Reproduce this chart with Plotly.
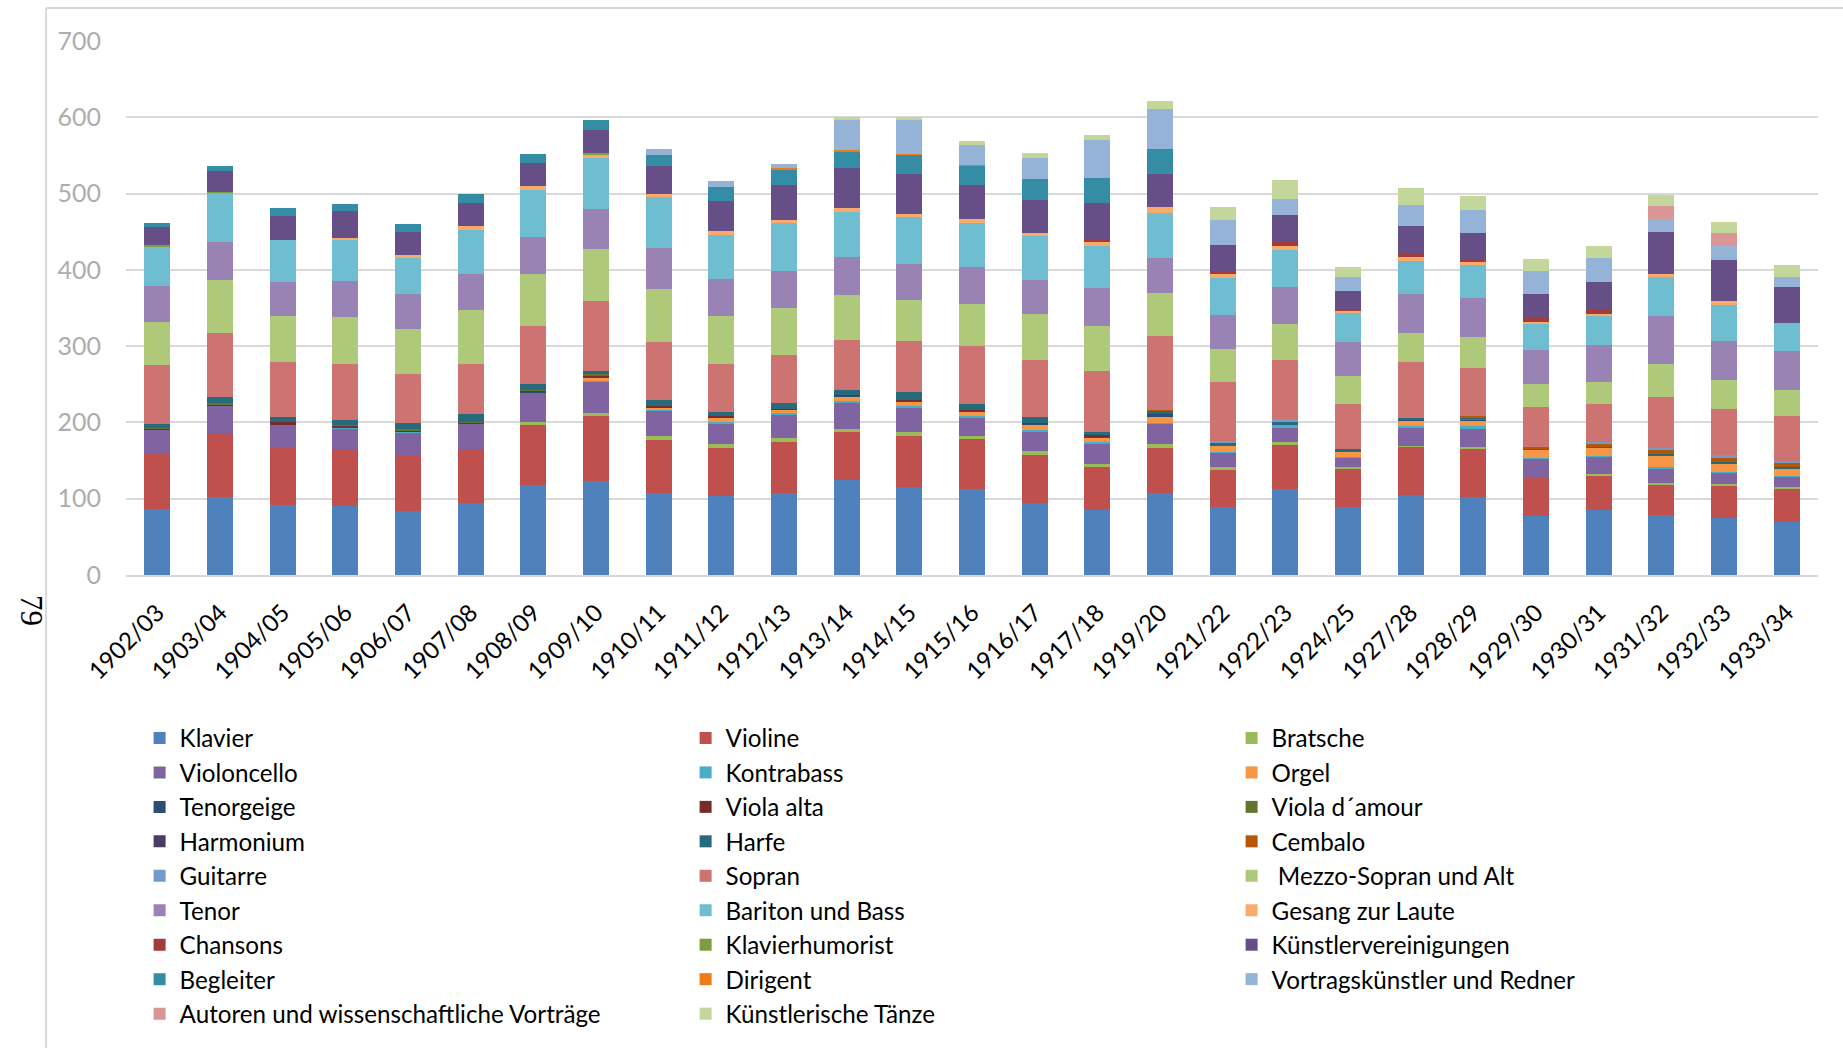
import plotly.graph_objects as go

seasons = ["1902/03", "1903/04", "1904/05", "1905/06", "1906/07", "1907/08", "1908/09",
           "1909/10", "1910/11", "1911/12", "1912/13", "1913/14", "1914/15", "1915/16",
           "1916/17", "1917/18", "1919/20", "1921/22", "1922/23", "1924/25", "1927/28",
           "1928/29", "1929/30", "1930/31", "1931/32", "1932/33", "1933/34"]

klavier = [87, 102, 92, 90, 84, 94, 118, 123, 107, 104, 107, 124, 115, 113, 95, 85, 108, 89, 113, 89, 105, 102, 77, 85, 79, 75, 69]
violine = [72, 84, 76, 75, 72, 71, 78, 85, 70, 63, 68, 63, 67, 65, 62, 56, 58, 49, 58, 50, 63, 64, 52, 46, 40, 42, 44]
bratsche = [0, 0, 0, 0, 0, 0, 4, 4, 5, 5, 4, 4, 5, 4, 5, 5, 6, 3, 3, 2, 1, 2, 0, 1, 2, 2, 3]
violoncello = [32, 35, 29, 27, 31, 33, 39, 41, 33, 27, 32, 35, 32, 24, 26, 26, 26, 19, 20, 13, 24, 24, 24, 23, 19, 15, 13]
kontrabass = [0, 0, 0, 1, 1, 0, 0, 1, 1, 1, 1, 2, 2, 2, 2, 2, 1, 1, 2, 1, 2, 3, 1, 1, 1, 1, 1]
orgel = [0, 0, 0, 0, 0, 0, 0, 5, 4, 6, 5, 6, 7, 6, 7, 5, 8, 8, 0, 6, 7, 8, 10, 11, 15, 11, 10]
tenorgeige = [0, 0, 0, 0, 0, 0, 1, 1, 0, 1, 0, 1, 1, 1, 1, 3, 4, 0, 0, 0, 1, 1, 0, 0, 0, 0, 0]
viola_alta = [1, 3, 3, 3, 2, 2, 2, 2, 2, 1, 1, 1, 1, 1, 1, 1, 0, 0, 0, 0, 0, 0, 0, 0, 0, 0, 0]
viola_damour = [1, 2, 0, 1, 2, 1, 1, 1, 0, 0, 0, 0, 0, 0, 0, 0, 0, 0, 0, 0, 0, 1, 0, 0, 0, 0, 0]
harmonium = [0, 0, 0, 0, 0, 0, 0, 0, 0, 0, 0, 0, 0, 0, 0, 0, 0, 0, 0, 0, 0, 0, 0, 0, 0, 0, 0]
harfe = [5, 7, 7, 6, 7, 10, 7, 5, 7, 6, 8, 7, 10, 8, 8, 4, 4, 5, 5, 4, 3, 2, 2, 1, 2, 2, 1]
cembalo = [0, 0, 0, 0, 0, 0, 0, 0, 0, 0, 0, 0, 0, 0, 0, 0, 1, 0, 0, 0, 0, 2, 2, 5, 6, 6, 6]
guitarre = [0, 0, 0, 0, 0, 0, 0, 0, 0, 0, 0, 0, 0, 0, 0, 0, 0, 2, 3, 0, 0, 0, 0, 2, 3, 3, 2]
sopran = [77, 84, 72, 73, 65, 66, 77, 91, 77, 63, 62, 65, 67, 76, 75, 81, 97, 77, 78, 59, 73, 62, 52, 49, 66, 60, 60]
mezzo = [57, 70, 61, 62, 59, 70, 68, 69, 69, 62, 62, 59, 53, 55, 60, 58, 57, 43, 47, 37, 38, 41, 31, 29, 44, 39, 34]
tenor = [47, 50, 44, 48, 45, 47, 48, 52, 54, 49, 49, 50, 48, 49, 45, 50, 46, 45, 49, 44, 51, 51, 44, 48, 62, 51, 50]
bariton = [52, 64, 55, 53, 47, 58, 62, 66, 66, 58, 62, 59, 61, 58, 57, 55, 58, 48, 48, 38, 43, 43, 34, 38, 51, 47, 37]
gesang_laute = [0, 0, 0, 3, 4, 5, 5, 5, 5, 5, 4, 5, 4, 5, 4, 6, 8, 6, 5, 4, 6, 4, 3, 3, 5, 5, 0]
chansons = [0, 0, 0, 0, 0, 0, 0, 0, 0, 0, 0, 0, 0, 0, 0, 3, 0, 4, 5, 1, 5, 4, 5, 5, 0, 0, 0]
klavierhumorist = [2, 1, 0, 0, 0, 0, 0, 2, 0, 0, 0, 0, 0, 0, 0, 0, 0, 0, 0, 0, 0, 0, 0, 0, 0, 0, 0]
kuenstlervereinigungen = [23, 28, 32, 35, 31, 31, 30, 30, 36, 39, 46, 53, 53, 44, 43, 47, 44, 33, 36, 24, 36, 34, 31, 37, 55, 54, 48]
begleiter = [6, 6, 10, 9, 10, 12, 12, 13, 14, 19, 20, 21, 25, 26, 28, 33, 33, 0, 0, 0, 0, 0, 0, 0, 0, 0, 0]
dirigent = [0, 0, 0, 0, 0, 0, 0, 0, 0, 0, 2, 2, 1, 1, 0, 0, 0, 0, 0, 0, 0, 0, 0, 0, 0, 0, 0]
vortrag = [0, 0, 0, 0, 0, 0, 0, 0, 9, 7, 6, 40, 44, 26, 28, 50, 52, 33, 21, 18, 27, 31, 31, 31, 17, 18, 13]
autoren = [0, 0, 0, 0, 0, 0, 0, 0, 0, 0, 0, 0, 0, 0, 0, 0, 0, 0, 0, 0, 0, 0, 0, 0, 17, 17, 0]
taenze = [0, 0, 0, 0, 0, 0, 0, 0, 0, 0, 0, 4, 5, 5, 6, 7, 11, 17, 25, 14, 22, 18, 15, 16, 14, 15, 15]

series = [
    ("Klavier", klavier, "#4F81BD"),
    ("Violine", violine, "#C0504D"),
    ("Bratsche", bratsche, "#9BBB59"),
    ("Violoncello", violoncello, "#8064A2"),
    ("Kontrabass", kontrabass, "#4BACC6"),
    ("Orgel", orgel, "#F79646"),
    ("Tenorgeige", tenorgeige, "#2C4D75"),
    ("Viola alta", viola_alta, "#772C2A"),
    ("Viola d\u00b4amour", viola_damour, "#5F7530"),
    ("Harmonium", harmonium, "#4D3B62"),
    ("Harfe", harfe, "#276A7C"),
    ("Cembalo", cembalo, "#B65708"),
    ("Guitarre", guitarre, "#729ACA"),
    ("Sopran", sopran, "#CD7371"),
    (" Mezzo-Sopran und Alt", mezzo, "#AFC97A"),
    ("Tenor", tenor, "#9983B5"),
    ("Bariton und Bass", bariton, "#6FBDD1"),
    ("Gesang zur Laute", gesang_laute, "#F9AB6B"),
    ("Chansons", chansons, "#A03C3A"),
    ("Klavierhumorist", klavierhumorist, "#7E9C40"),
    ("Künstlervereinigungen", kuenstlervereinigungen, "#664F86"),
    ("Begleiter", begleiter, "#358CA5"),
    ("Dirigent", dirigent, "#F07A16"),
    ("Vortragskünstler und Redner", vortrag, "#95B3D7"),
    ("Autoren und wissenschaftliche Vorträge", autoren, "#D99694"),
    ("Künstlerische Tänze", taenze, "#C4D79B"),
]

W, H = 1843, 1048
ML, MR, MT, MB = 126.4, 24.8, 41.4, 472.7
PW = W - ML - MR
PH = H - MT - MB

fig = go.Figure()
for name, vals, col in series:
    fig.add_trace(go.Bar(
        x=seasons, y=vals, name=name,
        marker=dict(color=col, line=dict(width=0)),
    ))

def px_x(px):
    return (px - ML) / PW

def px_y(py):
    return (H - MB - py) / PH

fig.update_layout(
    width=W, height=H,
    margin=dict(l=ML, r=MR, t=MT, b=MB, pad=0, autoexpand=False),
    barmode="stack",
    bargap=0.59,
    plot_bgcolor="white",
    paper_bgcolor="white",
    font=dict(family="Lato", size=24, color="#000000"),
    xaxis=dict(
        type="category",
        tickangle=-45,
        showgrid=False,
        showline=True, linecolor="#D9D9D9", linewidth=2,
        ticks="",
        tickfont=dict(family="Lato", size=24, color="#000000"),
        ticklabelstandoff=12,
    ),
    yaxis=dict(
        range=[0, 700],
        tickvals=[0, 100, 200, 300, 400, 500, 600, 700],
        showgrid=True, gridcolor="#D9D9D9", gridwidth=2,
        zeroline=False,
        showline=False,
        ticks="",
        tickfont=dict(family="Lato", size=25, color="#ADADAD"),
        ticklabelstandoff=24,
    ),
    legend=dict(
        orientation="h",
        x=px_x(140), xanchor="left",
        y=px_y(716), yanchor="top",
        entrywidth=501, entrywidthmode="pixels",
        itemwidth=30,
        font=dict(family="Lato", size=24.2, color="#000000"),
        traceorder="normal",
        bgcolor="rgba(0,0,0,0)",
    ),
    shapes=[
        dict(type="line", xref="paper", yref="paper",
             x0=px_x(46.5), x1=px_x(W + 5), y0=px_y(8.5), y1=px_y(8.5),
             line=dict(color="#D9D9D9", width=2)),
        dict(type="line", xref="paper", yref="paper",
             x0=px_x(46.5), x1=px_x(46.5), y0=px_y(8.5), y1=px_y(H + 5),
             line=dict(color="#D9D9D9", width=2)),
    ],
    annotations=[
        dict(text="79", xref="paper", yref="paper", x=px_x(13), y=px_y(628),
             showarrow=False, textangle=90,
             font=dict(family="Liberation Serif", size=31, color="#000000")),
    ],
)

fig.write_html("out.html", config={"displayModeBar": False},
               post_script="document.body.style.margin='0';document.body.style.overflow='hidden';")
